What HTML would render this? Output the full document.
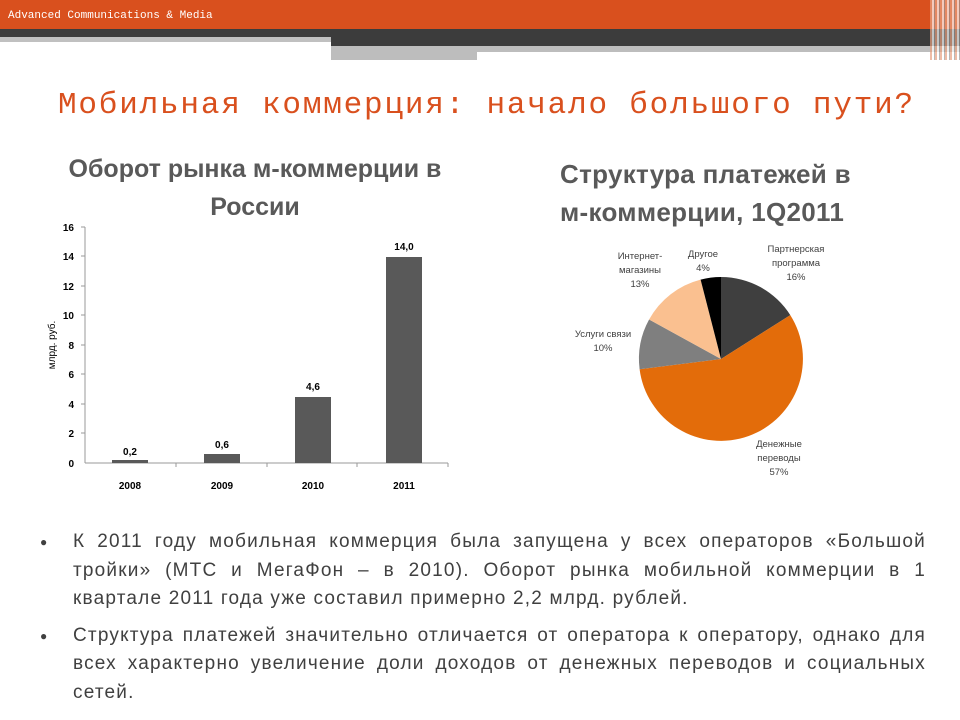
<!DOCTYPE html>
<html><head><meta charset="utf-8"><style>
body{margin:0;width:960px;height:720px;background:#fff;position:relative;overflow:hidden;font-family:"Liberation Sans","DejaVu Sans",sans-serif}
.a{position:absolute}
.j{text-align:justify;text-align-last:justify;white-space:nowrap}
.l{white-space:nowrap}
</style></head><body>
<div class="a" style="left:0;top:0;width:960px;height:29px;background:#d9501e"></div>
<div class="a" style="left:8px;top:10px;font-family:'Liberation Mono',monospace;font-size:11px;color:#fff">Advanced Communications &amp; Media</div>
<div class="a" style="left:0;top:29px;width:960px;height:8px;background:#3c3c3c"></div>
<div class="a" style="left:0;top:37px;width:331px;height:5px;background:#c0c0c0"></div>
<div class="a" style="left:331px;top:37px;width:629px;height:9px;background:#3c3c3c"></div>
<div class="a" style="left:331px;top:46px;width:629px;height:6px;background:#bdbdbd"></div>
<div class="a" style="left:331px;top:52px;width:146px;height:8px;background:#bdbdbd"></div>
<div class="a" style="left:930px;top:0;width:30px;height:60px;background:repeating-linear-gradient(90deg,#e8a080 0 2px,#fff 2px 4px,#999 4px 5px);opacity:.7"></div>
<div class="a" style="left:58px;top:88px;font-family:'Liberation Mono',monospace;font-size:31px;letter-spacing:1.8px;color:#d9501e;white-space:nowrap">Мобильная коммерция: начало большого пути?</div>
<div class="a" style="left:30px;top:150px;width:450px;text-align:center;font-size:25px;font-weight:bold;color:#595959;line-height:38px">Оборот рынка м-коммерции в<br>России</div>
<div class="a" style="left:560px;top:155px;font-size:26px;letter-spacing:0.3px;font-weight:bold;color:#595959;line-height:38px">Структура платежей в<br>м-коммерции, 1Q2011</div>
<svg class="a" style="left:0;top:0" width="960" height="720">
<g font-family="Liberation Sans" font-weight="bold" font-size="10" fill="#000">
<line x1="85" y1="227" x2="85" y2="463" stroke="#999"/>
<line x1="85" y1="463" x2="448" y2="463" stroke="#999"/>
<g text-anchor="end">
<text x="74" y="467">0</text><text x="74" y="437">2</text><text x="74" y="408">4</text><text x="74" y="378">6</text><text x="74" y="349">8</text><text x="74" y="319">10</text><text x="74" y="290">12</text><text x="74" y="260">14</text><text x="74" y="231">16</text>
</g>
<g stroke="#999"><line x1="81" y1="227" x2="85" y2="227"/><line x1="81" y1="256" x2="85" y2="256"/><line x1="81" y1="286" x2="85" y2="286"/><line x1="81" y1="315" x2="85" y2="315"/><line x1="81" y1="345" x2="85" y2="345"/><line x1="81" y1="374" x2="85" y2="374"/><line x1="81" y1="404" x2="85" y2="404"/><line x1="81" y1="433" x2="85" y2="433"/><line x1="176" y1="463" x2="176" y2="467"/><line x1="267" y1="463" x2="267" y2="467"/><line x1="357" y1="463" x2="357" y2="467"/><line x1="448" y1="463" x2="448" y2="467"/></g>
<text transform="translate(55,345) rotate(-90)" text-anchor="middle" font-weight="normal" font-size="10">млрд. руб.</text>
<g fill="#595959"><rect x="112" y="460" width="36" height="3"/><rect x="204" y="454" width="36" height="9"/><rect x="295" y="397" width="36" height="66"/><rect x="386" y="257" width="36" height="206"/></g>
<g text-anchor="middle"><text x="130" y="455">0,2</text><text x="222" y="448">0,6</text><text x="313" y="390">4,6</text><text x="404" y="250">14,0</text>
<text x="130" y="489">2008</text><text x="222" y="489">2009</text><text x="313" y="489">2010</text><text x="404" y="489">2011</text></g>
</g>
<g>
<path d="M721 359 L721 277 A82 82 0 0 1 790.3 315.1 Z" fill="#3f3f3f"/>
<path d="M721 359 L790.3 315.1 A82 82 0 1 1 639.6 369.3 Z" fill="#e36c0a"/>
<path d="M721 359 L639.6 369.3 A82 82 0 0 1 649.1 319.5 Z" fill="#7f7f7f"/>
<path d="M721 359 L649.1 319.5 A82 82 0 0 1 700.6 279.6 Z" fill="#fac090"/>
<path d="M721 359 L700.6 279.6 A82 82 0 0 1 721 277 Z" fill="#000"/>
</g>
<g font-family="Liberation Sans" font-size="9.5" fill="#404040" text-anchor="middle">
<text x="796" y="252">Партнерская</text><text x="796" y="266">программа</text><text x="796" y="280">16%</text>
<text x="703" y="257">Другое</text><text x="703" y="271">4%</text>
<text x="640" y="259">Интернет-</text><text x="640" y="273">магазины</text><text x="640" y="287">13%</text>
<text x="603" y="337">Услуги связи</text><text x="603" y="351">10%</text>
<text x="779" y="447">Денежные</text><text x="779" y="461">переводы</text><text x="779" y="475">57%</text>
</g>
</svg>
<div class="a" style="left:40px;top:528px;width:886px;font-size:19px;letter-spacing:1.2px;color:#404040;line-height:28.5px">
<div style="position:relative;padding-left:33px"><span style="position:absolute;left:0;font-size:12px">●</span>
<div class="j">К 2011 году мобильная коммерция была запущена у всех операторов «Большой</div>
<div class="j">тройки» (МТС и МегаФон – в 2010). Оборот рынка мобильной коммерции в 1</div>
<div class="l">квартале 2011 года уже составил примерно 2,2 млрд. рублей.</div></div>
<div style="position:relative;padding-left:33px;margin-top:8px"><span style="position:absolute;left:0;font-size:12px">●</span>
<div class="j">Структура платежей значительно отличается от оператора к оператору, однако для</div>
<div class="j">всех характерно увеличение доли доходов от денежных переводов и социальных</div>
<div class="l">сетей.</div></div>
</div>
</body></html>
